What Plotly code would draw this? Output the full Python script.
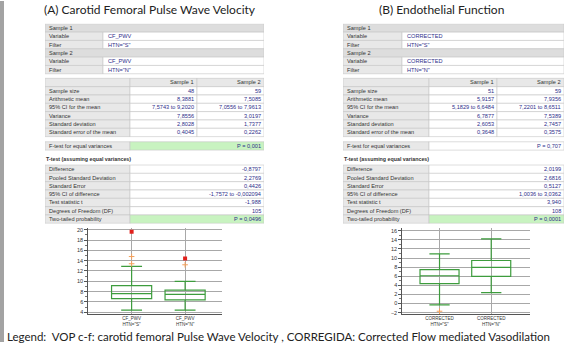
import plotly.graph_objects as go

W, H = 567, 344

# ---------------- data ----------------
desc_labels = ["Sample size", "Arithmetic mean", "95% CI for the mean", "Variance",
               "Standard deviation", "Standard error of the mean"]
ttest_labels = ["Difference", "Pooled Standard Deviation", "Standard Error",
                "95% CI of difference", "Test statistic t", "Degrees of Freedom (DF)",
                "Two-tailed probability"]

a_variable = "CF_PWV"
a_filters = ['HTN="S"', 'HTN="N"']
a_sample1 = ["48", "8,3881", "7,5743 to 9,2020", "7,8556", "2,8028", "0,4045"]
a_sample2 = ["59", "7,5085", "7,0556 to 7,9613", "3,0197", "1,7377", "0,2262"]
a_ftest = "P = 0,001"
a_ttest = ["-0,8797", "2,2769", "0,4426", "-1,7572 to -0,002094", "-1,988", "105", "P = 0,0496"]

b_variable = "CORRECTED"
b_filters = ['HTN="S"', 'HTN="N"']
b_sample1 = ["51", "5,9157", "5,1829 to 6,6484", "6,7877", "2,6053", "0,3648"]
b_sample2 = ["59", "7,9356", "7,2201 to 8,6511", "7,5389", "2,7457", "0,3575"]
b_ftest = "P = 0,707"
b_ttest = ["2,0199", "2,6816", "0,5127", "1,0036 to 3,0362", "3,940", "108", "P = 0,0001"]

# box-plot summaries: lower whisker, Q1, median, Q3, upper whisker
a_groups = ['CF_PWV<br>HTN="S"', 'CF_PWV<br>HTN="N"']
a_low = [4.4, 4.4]
a_q1 = [6.65, 6.4]
a_med = [7.6, 7.45]
a_q3 = [9.15, 8.3]
a_high = [12.9, 10.0]
a_outside = [[13.4, 14.8], [13.2]]
a_farout = [[19.6], [14.4]]

b_groups = ['CORRECTED<br>HTN="S"', 'CORRECTED<br>HTN="N"']
b_low = [-0.3, 2.4]
b_q1 = [4.35, 5.95]
b_med = [6.1, 7.95]
b_q3 = [7.45, 9.45]
b_high = [10.9, 14.2]
b_outside = [[-1.7], []]
b_farout = [[], []]

# ---------------- styling ----------------
LABEL_FILL = "#e8e8e8"
SECTION_FILL = "#dddddd"
WHITE = "#ffffff"
GREEN = "#c8f3c0"
LINE = "#c6c6c6"
TXT = "#333333"
VAL = "#2e2e8a"
TFONT = "Liberation Sans"
TSIZE = 5.6
ROW_PX = 8.4          # pixel height of one table row
N_ROWS = 24.0         # vertical extent of the table stack, in rows
BOX_GREEN = "#3d9c3d"

fig = go.Figure()


def add_cell(ax, x0, x1, r0, r1, fill):
    fig.add_shape(type="rect", xref=ax[0], yref=ax[1], x0=x0, x1=x1, y0=r0, y1=r1,
                  fillcolor=fill, line=dict(color=LINE, width=0.6), layer="below")


def add_text(ax, x, r, s, anchor, color=TXT, size=TSIZE):
    fig.add_annotation(text=s, x=x, y=r, xref=ax[0], yref=ax[1], showarrow=False,
                       xanchor=anchor, yanchor="middle", borderpad=0,
                       font=dict(family=TFONT, size=size, color=color))


def stats_panel(ax, width, split1, split2, split3, variable, filters, s1, s2, ftest,
                ftest_fill, ttest):
    pad = 2.5
    # sample definition block
    top = 0.0
    rows = [("Sample 1", None), ("Variable", variable), ("Filter", filters[0]),
            ("Sample 2", None), ("Variable", variable), ("Filter", filters[1])]
    for i, (lab, val) in enumerate(rows):
        r0, r1 = top + i, top + i + 1
        if val is None:
            add_cell(ax, 0, width, r0, r1, SECTION_FILL)
            add_text(ax, pad, r0 + 0.5, lab, "left")
        else:
            add_cell(ax, 0, split1, r0, r1, LABEL_FILL)
            add_cell(ax, split1, width, r0, r1, WHITE)
            add_text(ax, pad, r0 + 0.5, lab, "left")
            add_text(ax, split1 + 4, r0 + 0.5, val, "left", VAL)

    # descriptive statistics block
    top = 6.55
    add_cell(ax, 0, split2, top, top + 1, LABEL_FILL)
    add_cell(ax, split2, split3, top, top + 1, LABEL_FILL)
    add_cell(ax, split3, width, top, top + 1, LABEL_FILL)
    add_text(ax, split3 - pad, top + 0.5, "Sample 1", "right")
    add_text(ax, width - pad, top + 0.5, "Sample 2", "right")
    for i, lab in enumerate(desc_labels):
        r0 = top + 1 + i
        add_cell(ax, 0, split2, r0, r0 + 1, LABEL_FILL)
        add_cell(ax, split2, split3, r0, r0 + 1, WHITE)
        add_cell(ax, split3, width, r0, r0 + 1, WHITE)
        add_text(ax, pad, r0 + 0.5, lab, "left")
        add_text(ax, split3 - pad, r0 + 0.5, s1[i], "right", VAL)
        add_text(ax, width - pad, r0 + 0.5, s2[i], "right", VAL)

    # F-test row
    top = 14.17
    add_cell(ax, 0, split2, top, top + 1, LABEL_FILL)
    add_cell(ax, split2, width, top, top + 1, ftest_fill)
    add_text(ax, pad, top + 0.5, "F-test for equal variances", "left")
    add_text(ax, width - pad, top + 0.5, ftest, "right", VAL)

    # T-test block
    add_text(ax, 0, 16.19, "<b>T-test (assuming equal variances)</b>", "left", TXT, 5.3)
    top = 16.96
    for i, lab in enumerate(ttest_labels):
        r0 = top + i
        last = i == len(ttest_labels) - 1
        add_cell(ax, 0, split2, r0, r0 + 1, LABEL_FILL)
        add_cell(ax, split2, width, r0, r0 + 1, GREEN if last else WHITE)
        add_text(ax, pad, r0 + 0.5, lab, "left")
        add_text(ax, width - pad, r0 + 0.5, ttest[i], "right", VAL)


stats_panel(("x3", "y3"), 219, 58, 85, 152, a_variable, a_filters, a_sample1, a_sample2,
            a_ftest, GREEN, a_ttest)
stats_panel(("x4", "y4"), 221, 59, 86, 154, b_variable, b_filters, b_sample1, b_sample2,
            b_ftest, WHITE, b_ttest)

# anchor traces so the table axes exist
for xa, ya in (("x3", "y3"), ("x4", "y4")):
    fig.add_trace(go.Scatter(x=[None], y=[None], xaxis=xa, yaxis=ya, mode="markers",
                             showlegend=False, hoverinfo="skip"))


def add_boxes(xref, yref, low, q1, med, q3, high, outside, farout, width):
    pos = list(range(len(low)))
    fig.add_trace(go.Box(
        x=pos, lowerfence=low, q1=q1, median=med, q3=q3, upperfence=high,
        width=width, whiskerwidth=0.52, fillcolor="rgba(255,255,255,0)",
        line=dict(color=BOX_GREEN, width=1.2), boxpoints=False,
        xaxis=xref, yaxis=yref, showlegend=False, hoverinfo="skip"))
    ox = [p for p, vals in zip(pos, outside) for _ in vals]
    oy = [v for vals in outside for v in vals]
    fig.add_trace(go.Scatter(x=ox, y=oy, mode="markers", xaxis=xref, yaxis=yref,
                             marker=dict(symbol="cross-thin", size=4, color="#f4a05a",
                                         line=dict(color="#f4a05a", width=1)),
                             showlegend=False))
    fx = [p for p, vals in zip(pos, farout) for _ in vals]
    fy = [v for vals in farout for v in vals]
    fig.add_trace(go.Scatter(x=fx, y=fy, mode="markers", xaxis=xref, yaxis=yref,
                             marker=dict(symbol="square", size=4, color="#e0201c"),
                             showlegend=False))


add_boxes("x", "y", a_low, a_q1, a_med, a_q3, a_high, a_outside, a_farout, 0.75)
add_boxes("x2", "y2", b_low, b_q1, b_med, b_q3, b_high, b_outside, b_farout, 0.755)

axis_font = dict(family=TFONT, size=5.5, color="#333333")
xcommon = dict(showgrid=True, gridcolor="#a8a8a8", gridwidth=1, showline=True,
               linecolor="#555555", linewidth=1, zeroline=False, ticks="",
               tickfont=dict(family=TFONT, size=4.5, color="#333333"))
ycommon = dict(showgrid=True, gridcolor="#a8a8a8", gridwidth=1, showline=True,
               linecolor="#555555", linewidth=1, zeroline=False, ticks="outside",
               ticklen=3, tickcolor="#555555", dtick=2, tickfont=axis_font,
               minor=dict(ticks="outside", ticklen=2, dtick=1, tickcolor="#777777", showgrid=False))
hidden = dict(visible=False, showgrid=False, zeroline=False, fixedrange=True)

yd = [1 - 315.7 / H, 1 - 229 / H]
table_yd = [1 - (23 + N_ROWS * ROW_PX) / H, 1 - 23 / H]
fig.update_layout(
    width=W, height=H, margin=dict(l=0, r=0, t=0, b=0),
    paper_bgcolor="white", plot_bgcolor="rgba(0,0,0,0)", showlegend=False,
    xaxis=dict(domain=[88.3 / W, 222 / W], range=[-0.81, 1.69], tickvals=[0, 1],
               ticktext=a_groups, anchor="y", **xcommon),
    yaxis=dict(domain=yd, range=[3.67, 20.33], anchor="x", **ycommon),
    xaxis2=dict(domain=[402.3 / W, 530 / W], range=[-0.72, 1.75], tickvals=[0, 1],
                ticktext=b_groups, anchor="y2", **xcommon),
    yaxis2=dict(domain=yd, range=[-2.3, 16.6], anchor="x2", **ycommon),
    xaxis3=dict(domain=[45 / W, 264 / W], range=[0, 219], anchor="y3", **hidden),
    yaxis3=dict(domain=table_yd, range=[N_ROWS, 0], anchor="x3", **hidden),
    xaxis4=dict(domain=[343 / W, 564 / W], range=[0, 221], anchor="y4", **hidden),
    yaxis4=dict(domain=table_yd, range=[N_ROWS, 0], anchor="x4", **hidden),
)

# panel titles and footnote
title_font = dict(family="Lato", size=12, color="#222222")
fig.add_annotation(text="(A) Carotid Femoral Pulse Wave Velocity", x=150 / W, y=1 - 9 / H,
                   xref="paper", yref="paper", showarrow=False, font=title_font,
                   xanchor="center", yanchor="middle")
fig.add_annotation(text="(B) Endothelial Function", x=441 / W, y=1 - 9 / H,
                   xref="paper", yref="paper", showarrow=False, font=title_font,
                   xanchor="center", yanchor="middle")
fig.add_annotation(
    text="Legend:  VOP c-f: carotid femoral Pulse Wave Velocity , CORREGIDA: Corrected Flow mediated Vasodilation",
    x=5 / W, y=1 - 338 / H, xref="paper", yref="paper", showarrow=False,
    font=dict(family="Lato", size=11.5, color="#222222"), xanchor="left", yanchor="middle")

# slide edge strip
fig.add_shape(type="rect", xref="paper", yref="paper", x0=0, x1=4 / W, y0=0, y1=1,
              fillcolor="#a3a3a3", line=dict(width=0), layer="below")

fig.write_html("out.html")
